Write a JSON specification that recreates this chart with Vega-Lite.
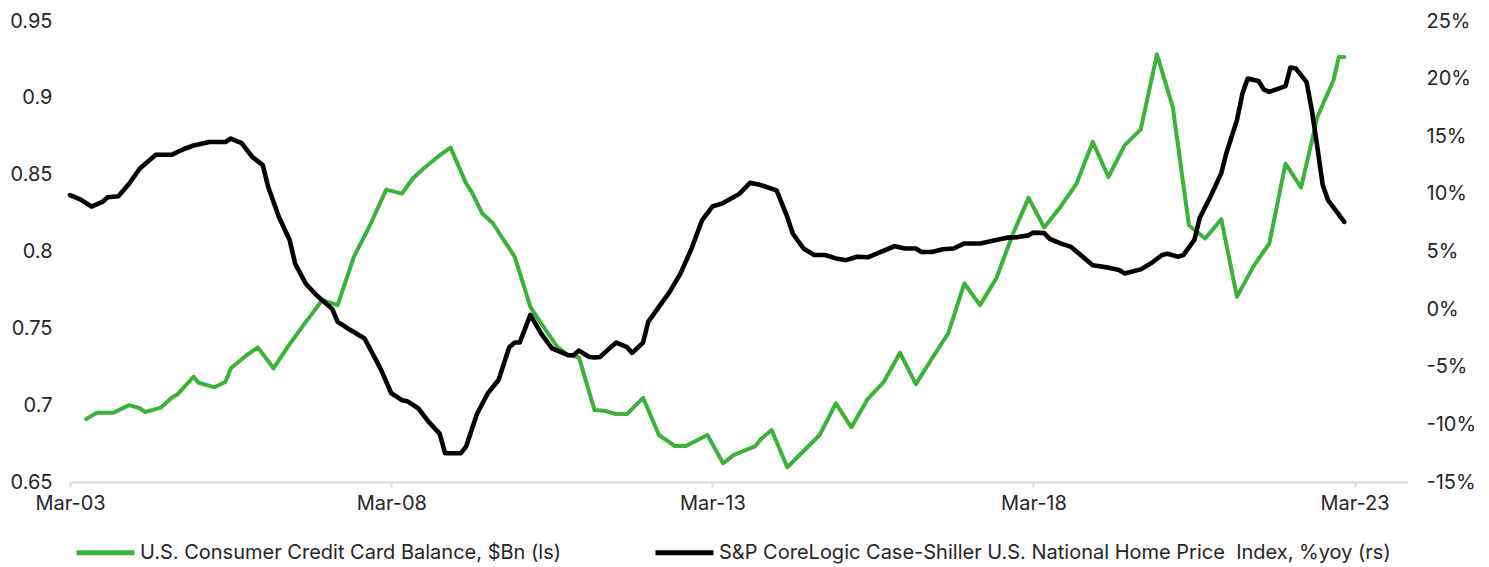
{
  "$schema": "https://vega.github.io/schema/vega-lite/v6.json",
  "width": 1337,
  "height": 461,
  "autosize": {"type": "none"},
  "padding": {"left": 70, "top": 21, "right": 82, "bottom": 85},
  "background": "white",
  "config": {
    "view": {"stroke": null},
    "font": "Inter",
    "axis": {"grid": false, "labelFont": "Inter", "labelFontSize": 20, "labelColor": "#262626", "titleColor": "#262626"},
    "legend": {"labelFont": "Inter", "labelFontSize": 20, "labelColor": "#262626", "labelLimit": 0}
  },
  "datasets": {
    "credit": [
      {"date": "2003-06-01", "value": 0.691},
      {"date": "2003-08-01", "value": 0.695},
      {"date": "2003-11-01", "value": 0.695},
      {"date": "2004-02-01", "value": 0.700},
      {"date": "2004-04-01", "value": 0.698},
      {"date": "2004-05-01", "value": 0.6955},
      {"date": "2004-08-01", "value": 0.6986},
      {"date": "2004-10-01", "value": 0.705},
      {"date": "2004-11-01", "value": 0.707},
      {"date": "2005-02-01", "value": 0.7185},
      {"date": "2005-03-01", "value": 0.7146},
      {"date": "2005-06-01", "value": 0.7116},
      {"date": "2005-08-01", "value": 0.7152},
      {"date": "2005-09-01", "value": 0.724},
      {"date": "2005-12-01", "value": 0.7326},
      {"date": "2006-02-01", "value": 0.7376},
      {"date": "2006-05-01", "value": 0.724},
      {"date": "2006-08-01", "value": 0.7397},
      {"date": "2006-11-01", "value": 0.7542},
      {"date": "2006-12-01", "value": 0.7586},
      {"date": "2007-02-01", "value": 0.7683},
      {"date": "2007-05-01", "value": 0.7651},
      {"date": "2007-08-01", "value": 0.7965},
      {"date": "2007-11-01", "value": 0.8171},
      {"date": "2008-02-01", "value": 0.8403},
      {"date": "2008-05-01", "value": 0.8377},
      {"date": "2008-07-01", "value": 0.8475},
      {"date": "2008-09-01", "value": 0.854},
      {"date": "2008-12-01", "value": 0.8626},
      {"date": "2009-02-01", "value": 0.8676},
      {"date": "2009-05-01", "value": 0.8442},
      {"date": "2009-06-01", "value": 0.8388},
      {"date": "2009-08-01", "value": 0.8247},
      {"date": "2009-10-01", "value": 0.8182},
      {"date": "2009-12-01", "value": 0.8073},
      {"date": "2010-02-01", "value": 0.7965},
      {"date": "2010-05-01", "value": 0.764},
      {"date": "2010-07-01", "value": 0.7532},
      {"date": "2010-10-01", "value": 0.738},
      {"date": "2010-12-01", "value": 0.7326},
      {"date": "2011-02-01", "value": 0.7311},
      {"date": "2011-05-01", "value": 0.6968},
      {"date": "2011-07-01", "value": 0.6962},
      {"date": "2011-09-01", "value": 0.6942},
      {"date": "2011-11-01", "value": 0.6942},
      {"date": "2012-02-01", "value": 0.7048},
      {"date": "2012-05-01", "value": 0.6806},
      {"date": "2012-08-01", "value": 0.6734},
      {"date": "2012-10-01", "value": 0.6734},
      {"date": "2013-02-01", "value": 0.6806},
      {"date": "2013-05-01", "value": 0.6622},
      {"date": "2013-07-01", "value": 0.6676},
      {"date": "2013-11-01", "value": 0.6734},
      {"date": "2013-12-01", "value": 0.6778},
      {"date": "2014-02-01", "value": 0.6838},
      {"date": "2014-05-01", "value": 0.6596},
      {"date": "2014-11-01", "value": 0.6806},
      {"date": "2015-02-01", "value": 0.7012},
      {"date": "2015-05-01", "value": 0.6856},
      {"date": "2015-08-01", "value": 0.704},
      {"date": "2015-11-01", "value": 0.7152},
      {"date": "2016-02-01", "value": 0.7341},
      {"date": "2016-05-01", "value": 0.7137},
      {"date": "2016-08-01", "value": 0.7304},
      {"date": "2016-11-01", "value": 0.7467},
      {"date": "2017-02-01", "value": 0.7792},
      {"date": "2017-05-01", "value": 0.7651},
      {"date": "2017-08-01", "value": 0.7824},
      {"date": "2017-11-01", "value": 0.8106},
      {"date": "2018-02-01", "value": 0.8349},
      {"date": "2018-05-01", "value": 0.8156},
      {"date": "2018-08-01", "value": 0.829},
      {"date": "2018-11-01", "value": 0.8442},
      {"date": "2019-02-01", "value": 0.8713},
      {"date": "2019-05-01", "value": 0.8485},
      {"date": "2019-08-01", "value": 0.8691},
      {"date": "2019-11-01", "value": 0.8795},
      {"date": "2020-02-01", "value": 0.9283},
      {"date": "2020-05-01", "value": 0.894},
      {"date": "2020-08-01", "value": 0.8171},
      {"date": "2020-11-01", "value": 0.8085},
      {"date": "2021-02-01", "value": 0.821},
      {"date": "2021-05-01", "value": 0.7705},
      {"date": "2021-08-01", "value": 0.79},
      {"date": "2021-11-01", "value": 0.8052},
      {"date": "2022-02-01", "value": 0.8572},
      {"date": "2022-05-01", "value": 0.8416},
      {"date": "2022-08-01", "value": 0.8875},
      {"date": "2022-11-01", "value": 0.9114},
      {"date": "2022-12-01", "value": 0.9265},
      {"date": "2023-01-01", "value": 0.9265}
    ],
    "hpi": [
      {"date": "2003-03-01", "pct": 9.9},
      {"date": "2003-05-01", "pct": 9.5},
      {"date": "2003-07-01", "pct": 8.9},
      {"date": "2003-09-01", "pct": 9.3},
      {"date": "2003-10-01", "pct": 9.7},
      {"date": "2003-12-01", "pct": 9.8},
      {"date": "2004-02-01", "pct": 10.9},
      {"date": "2004-04-01", "pct": 12.2},
      {"date": "2004-07-01", "pct": 13.4},
      {"date": "2004-10-01", "pct": 13.4},
      {"date": "2004-12-01", "pct": 13.85},
      {"date": "2005-02-01", "pct": 14.2},
      {"date": "2005-05-01", "pct": 14.5},
      {"date": "2005-08-01", "pct": 14.5},
      {"date": "2005-09-01", "pct": 14.8},
      {"date": "2005-11-01", "pct": 14.4},
      {"date": "2006-01-01", "pct": 13.2},
      {"date": "2006-03-01", "pct": 12.5},
      {"date": "2006-04-01", "pct": 10.6},
      {"date": "2006-06-01", "pct": 8.0},
      {"date": "2006-08-01", "pct": 6.0},
      {"date": "2006-09-01", "pct": 3.95},
      {"date": "2006-11-01", "pct": 2.2},
      {"date": "2007-01-01", "pct": 1.2},
      {"date": "2007-04-01", "pct": 0.0},
      {"date": "2007-05-01", "pct": -1.1},
      {"date": "2007-07-01", "pct": -1.7},
      {"date": "2007-10-01", "pct": -2.55},
      {"date": "2007-12-01", "pct": -4.3},
      {"date": "2008-01-01", "pct": -5.2},
      {"date": "2008-03-01", "pct": -7.3},
      {"date": "2008-05-01", "pct": -7.9},
      {"date": "2008-06-01", "pct": -8.0},
      {"date": "2008-08-01", "pct": -8.6},
      {"date": "2008-10-01", "pct": -9.8},
      {"date": "2008-12-01", "pct": -10.8},
      {"date": "2009-01-01", "pct": -12.5},
      {"date": "2009-04-01", "pct": -12.5},
      {"date": "2009-05-01", "pct": -11.9},
      {"date": "2009-07-01", "pct": -9.1},
      {"date": "2009-09-01", "pct": -7.3},
      {"date": "2009-11-01", "pct": -6.15},
      {"date": "2010-01-01", "pct": -3.3},
      {"date": "2010-02-01", "pct": -2.9},
      {"date": "2010-03-01", "pct": -2.9},
      {"date": "2010-05-01", "pct": -0.5},
      {"date": "2010-07-01", "pct": -2.1},
      {"date": "2010-09-01", "pct": -3.4},
      {"date": "2010-12-01", "pct": -4.0},
      {"date": "2011-01-01", "pct": -4.0},
      {"date": "2011-02-01", "pct": -3.6},
      {"date": "2011-04-01", "pct": -4.15},
      {"date": "2011-05-01", "pct": -4.2},
      {"date": "2011-06-01", "pct": -4.15},
      {"date": "2011-08-01", "pct": -3.3},
      {"date": "2011-09-01", "pct": -2.9},
      {"date": "2011-11-01", "pct": -3.3},
      {"date": "2011-12-01", "pct": -3.8},
      {"date": "2012-02-01", "pct": -2.9},
      {"date": "2012-03-01", "pct": -1.1},
      {"date": "2012-05-01", "pct": 0.2},
      {"date": "2012-07-01", "pct": 1.5},
      {"date": "2012-09-01", "pct": 3.1},
      {"date": "2012-11-01", "pct": 5.2},
      {"date": "2013-01-01", "pct": 7.7},
      {"date": "2013-03-01", "pct": 8.9},
      {"date": "2013-05-01", "pct": 9.2},
      {"date": "2013-08-01", "pct": 10.0},
      {"date": "2013-10-01", "pct": 10.96},
      {"date": "2013-12-01", "pct": 10.76},
      {"date": "2014-03-01", "pct": 10.3},
      {"date": "2014-05-01", "pct": 8.0},
      {"date": "2014-06-01", "pct": 6.56},
      {"date": "2014-08-01", "pct": 5.26},
      {"date": "2014-10-01", "pct": 4.7},
      {"date": "2014-12-01", "pct": 4.7},
      {"date": "2015-02-01", "pct": 4.4},
      {"date": "2015-04-01", "pct": 4.25},
      {"date": "2015-06-01", "pct": 4.54},
      {"date": "2015-08-01", "pct": 4.5},
      {"date": "2015-12-01", "pct": 5.26},
      {"date": "2016-01-01", "pct": 5.46},
      {"date": "2016-03-01", "pct": 5.26},
      {"date": "2016-05-01", "pct": 5.26},
      {"date": "2016-06-01", "pct": 4.96},
      {"date": "2016-08-01", "pct": 4.96},
      {"date": "2016-10-01", "pct": 5.2},
      {"date": "2016-12-01", "pct": 5.26},
      {"date": "2017-02-01", "pct": 5.7},
      {"date": "2017-05-01", "pct": 5.7},
      {"date": "2017-07-01", "pct": 5.9},
      {"date": "2017-08-01", "pct": 6.0},
      {"date": "2017-10-01", "pct": 6.2},
      {"date": "2017-12-01", "pct": 6.25},
      {"date": "2018-02-01", "pct": 6.4},
      {"date": "2018-03-01", "pct": 6.64},
      {"date": "2018-05-01", "pct": 6.6},
      {"date": "2018-06-01", "pct": 6.1},
      {"date": "2018-08-01", "pct": 5.7},
      {"date": "2018-10-01", "pct": 5.4},
      {"date": "2018-12-01", "pct": 4.6},
      {"date": "2019-02-01", "pct": 3.8},
      {"date": "2019-05-01", "pct": 3.6},
      {"date": "2019-07-01", "pct": 3.4},
      {"date": "2019-08-01", "pct": 3.1},
      {"date": "2019-11-01", "pct": 3.45},
      {"date": "2020-01-01", "pct": 4.0},
      {"date": "2020-03-01", "pct": 4.7},
      {"date": "2020-04-01", "pct": 4.8},
      {"date": "2020-06-01", "pct": 4.55},
      {"date": "2020-07-01", "pct": 4.7},
      {"date": "2020-09-01", "pct": 6.0},
      {"date": "2020-10-01", "pct": 7.9},
      {"date": "2020-12-01", "pct": 9.75},
      {"date": "2021-02-01", "pct": 11.8},
      {"date": "2021-03-01", "pct": 13.5},
      {"date": "2021-05-01", "pct": 16.4},
      {"date": "2021-06-01", "pct": 18.7},
      {"date": "2021-07-01", "pct": 20.0},
      {"date": "2021-09-01", "pct": 19.8},
      {"date": "2021-10-01", "pct": 19.05},
      {"date": "2021-11-01", "pct": 18.85},
      {"date": "2022-02-01", "pct": 19.35},
      {"date": "2022-03-01", "pct": 20.96},
      {"date": "2022-04-01", "pct": 20.87},
      {"date": "2022-06-01", "pct": 19.7},
      {"date": "2022-07-01", "pct": 17.25},
      {"date": "2022-08-01", "pct": 14.07},
      {"date": "2022-09-01", "pct": 10.75},
      {"date": "2022-10-01", "pct": 9.46},
      {"date": "2023-01-01", "pct": 7.57}
    ]
  },
  "encoding": {
    "x": {
      "field": "date",
      "type": "temporal",
      "scale": {"type": "utc", "domain": [{"year": 2003, "month": 3, "date": 1, "utc": true}, {"year": 2023, "month": 12, "date": 24, "utc": true}]},
      "axis": {
        "title": null,
        "values": [
          {"year": 2003, "month": 3, "date": 1, "utc": true},
          {"year": 2008, "month": 3, "date": 1, "utc": true},
          {"year": 2013, "month": 3, "date": 1, "utc": true},
          {"year": 2018, "month": 3, "date": 1, "utc": true},
          {"year": 2023, "month": 3, "date": 1, "utc": true}
        ],
        "format": "%b-%y",
        "domainColor": "#d9d9d9",
        "domainWidth": 2,
        "tickColor": "#d9d9d9",
        "tickWidth": 2,
        "tickSize": 5,
        "labelPadding": 6,
        "labelFlush": false
      }
    }
  },
  "layer": [
    {
      "data": {"name": "credit"},
      "mark": {"type": "line", "strokeWidth": 4, "strokeJoin": "round", "strokeCap": "round"},
      "encoding": {
        "y": {
          "field": "value",
          "type": "quantitative",
          "scale": {"domain": [0.65, 0.95], "zero": false, "nice": false},
          "axis": {"title": null, "orient": "left", "values": [0.65, 0.7, 0.75, 0.8, 0.85, 0.9, 0.95], "format": ".2~f", "domain": false, "ticks": false, "labelPadding": 18}
        },
        "color": {
          "datum": "U.S. Consumer Credit Card Balance, $Bn (ls)",
          "scale": {
            "domain": ["U.S. Consumer Credit Card Balance, $Bn (ls)", "S&P CoreLogic Case-Shiller U.S. National Home Price \u00a0Index, %yoy (rs)"],
            "range": ["#3bb33a", "#000000"]
          },
          "legend": {
            "title": null,
            "orient": "none",
            "direction": "horizontal",
            "legendX": 4,
            "legendY": 500,
            "symbolType": "stroke",
            "symbolSize": 3364,
            "symbolStrokeWidth": 5,
            "labelOffset": 3,
            "columnPadding": 84,
            "labelLimit": 0
          }
        }
      }
    },
    {
      "data": {"name": "hpi"},
      "mark": {"type": "line", "strokeWidth": 4.6, "strokeJoin": "round", "strokeCap": "round"},
      "encoding": {
        "y": {
          "field": "pct",
          "type": "quantitative",
          "scale": {"domain": [-15, 25], "zero": false, "nice": false},
          "axis": {"title": null, "orient": "right", "values": [-15, -10, -5, 0, 5, 10, 15, 20, 25], "labelExpr": "datum.value + '%'", "domain": false, "ticks": false, "labelPadding": 19}
        },
        "color": {"datum": "S&P CoreLogic Case-Shiller U.S. National Home Price \u00a0Index, %yoy (rs)"}
      }
    }
  ],
  "resolve": {"scale": {"y": "independent"}}
}
